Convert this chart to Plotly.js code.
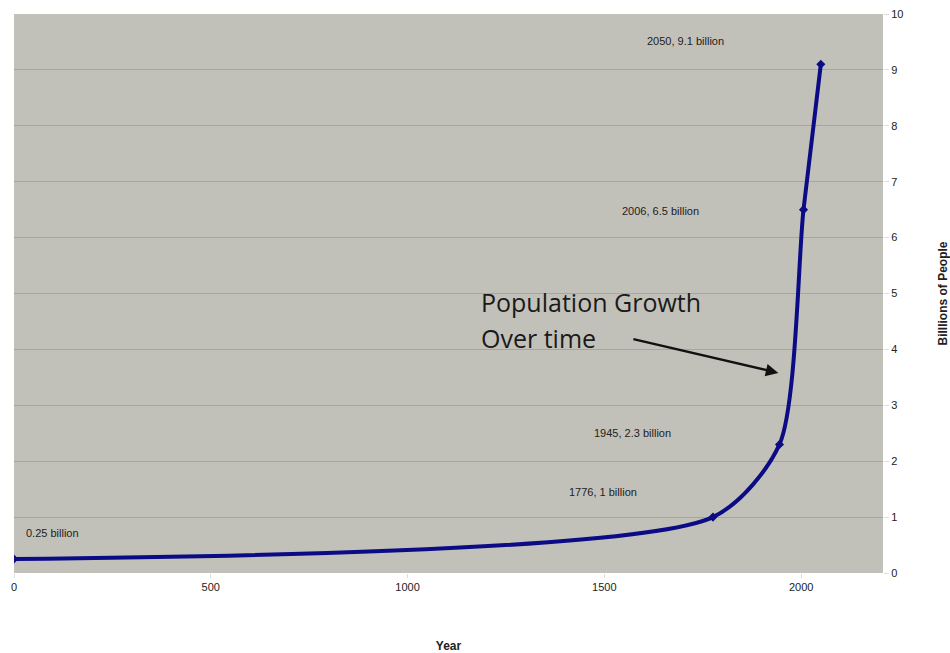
<!DOCTYPE html>
<html>
<head>
<meta charset="utf-8">
<script src="https://cdn.plot.ly/plotly-3.0.1.min.js"></script>
<style>html,body{margin:0;padding:0;background:#fff;}#chart{width:950px;height:653px;}</style>
</head>
<body>
<div id="chart"></div>
<script>
const years = [0, 1776, 1945, 2006, 2050];
const population = [0.25, 1, 2.3, 6.5, 9.1];
const pointLabels = ["0.25 billion", "1776, 1 billion", "1945, 2.3 billion", "2006, 6.5 billion", "2050, 9.1 billion"];
const labelX = [25, 1405, 1469, 1540, 1604];
const labelY = [0.72, 1.45, 2.5, 6.48, 9.52];
const calloutLines = ["Population Growth", "Over time"];
const calloutX = 1182;
const calloutY = [4.85, 4.2];
const xTicks = [0, 500, 1000, 1500, 2000];
const yTicks = [0, 1, 2, 3, 4, 5, 6, 7, 8, 9, 10];

const trace = {
  x: years, y: population, type: 'scatter', mode: 'lines+markers',
  line: {color: '#0b0b86', width: 4, shape: 'spline', smoothing: 0.7},
  marker: {symbol: 'diamond', size: 7, color: '#0b0b86'},
  hoverinfo: 'skip', showlegend: false
};

const annotations = pointLabels.map((t, i) => ({
  x: labelX[i], y: labelY[i], xref: 'x', yref: 'y', text: t, showarrow: false,
  xanchor: 'left', yanchor: 'middle',
  font: {family: 'Liberation Sans, Arial, sans-serif', size: 11, color: '#222'}
}));
calloutLines.forEach((t, i) => annotations.push({
  x: calloutX, y: calloutY[i], xref: 'x', yref: 'y', text: t,
  showarrow: false, xanchor: 'left', yanchor: 'middle', align: 'left',
  font: {family: 'Open Sans, sans-serif', size: 25, color: '#1a1a1a'}
}));
annotations.push({
  x: 1942, y: 3.58, ax: 1570, ay: 4.19, xref: 'x', yref: 'y', axref: 'x', ayref: 'y',
  text: '', showarrow: true, arrowhead: 2, arrowsize: 1, arrowwidth: 2.5, arrowcolor: '#111'
});

const layout = {
  width: 950, height: 653,
  margin: {l: 14, r: 67, t: 14, b: 80},
  paper_bgcolor: '#ffffff', plot_bgcolor: '#c2c1b9',
  font: {family: 'Liberation Sans, Arial, sans-serif', size: 11, color: '#222'},
  xaxis: {
    range: [0, 2208], tickvals: xTicks, ticktext: xTicks.map(String),
    showgrid: false, zeroline: false, showline: false,
    ticks: 'outside', ticklen: 4, tickcolor: '#dddddd',
    tickfont: {size: 11, color: '#222'},
    title: {text: '<b>Year</b>', font: {size: 12, color: '#222'}, standoff: 51},
    automargin: false
  },
  yaxis: {
    side: 'right', range: [0, 10], tickvals: yTicks, ticktext: yTicks.map(String),
    showgrid: true, gridcolor: '#a6a59e', gridwidth: 1, zeroline: false, showline: false,
    ticks: 'outside', ticklen: 5, tickcolor: '#dddddd',
    tickfont: {size: 11, color: '#222'},
    title: {text: '<b>Billlions of People</b>', font: {size: 12, color: '#222'}, standoff: 36},
    automargin: false
  },
  annotations: annotations
};

Plotly.newPlot('chart', [trace], layout, {displayModeBar: false, staticPlot: true});
</script>
</body>
</html>
